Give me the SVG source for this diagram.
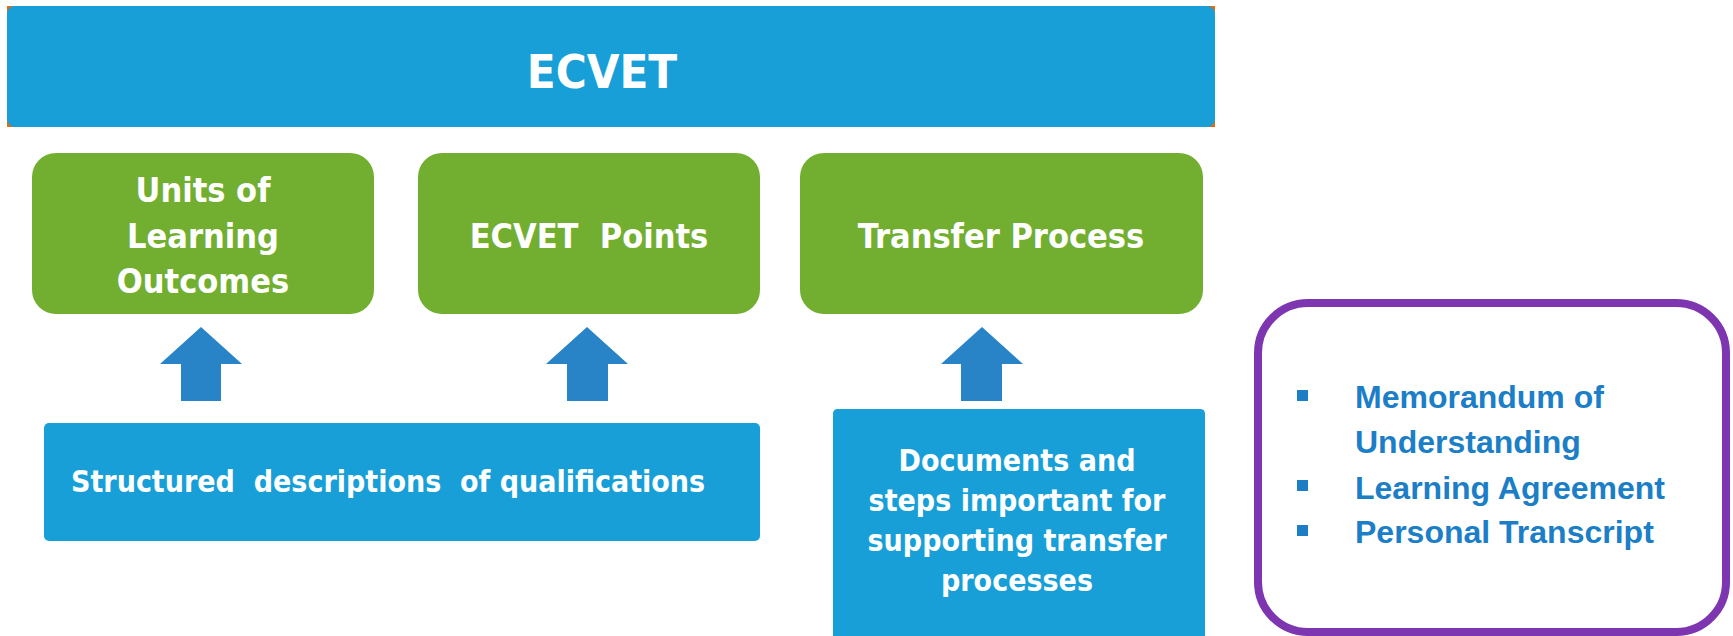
<svg xmlns="http://www.w3.org/2000/svg" width="1733" height="636" viewBox="0 0 1733 636">
<style>
.w{fill:#ffffff;font-family:'DejaVu Sans Condensed','DejaVu Sans',sans-serif;font-stretch:condensed;font-weight:bold;text-anchor:middle}
.blue{fill:#189FD8}
.green{fill:#72AF31}
.arrow{fill:#2984C7}
.li{fill:#1B7EC6;font-family:'Liberation Sans',Arial,sans-serif;font-weight:bold;font-size:32px}
.bul{fill:#1B7EC6}
</style>
<rect width="1733" height="636" fill="#ffffff"/>
<g id="ecvet">
<rect x="7" y="6" width="1208" height="121" fill="#E46C0A"/>
<rect class="blue" x="7" y="6" width="1208" height="121" rx="8" ry="8"/>
<text class="w" x="602" y="88" font-size="47">ECVET</text>
</g>
<g id="units">
<rect class="green" x="32" y="153" width="342" height="161" rx="24" ry="24"/>
<text class="w" font-size="34"><tspan x="203" y="202">Units of</tspan><tspan x="203" y="248">Learning</tspan><tspan x="203" y="293">Outcomes</tspan></text>
</g>
<g id="points">
<rect class="green" x="418" y="153" width="342" height="161" rx="24" ry="24"/>
<text class="w" font-size="34" x="589" y="248" xml:space="preserve">ECVET  Points</text>
</g>
<g id="transfer">
<rect class="green" x="800" y="153" width="403" height="161" rx="24" ry="24"/>
<text class="w" font-size="34" x="1001" y="248">Transfer Process</text>
</g>
<g id="structured">
<rect class="blue" x="44" y="423" width="716" height="118" rx="5" ry="5"/>
<text class="w" font-size="30" x="71" y="492" style="text-anchor:start" xml:space="preserve">Structured  descriptions  of qualifications</text>
</g>
<g id="documents">
<path class="blue" d="M838 409 H1200 Q1205 409 1205 414 V636 H833 V414 Q833 409 838 409 Z"/>
<text class="w" font-size="30"><tspan x="1017" y="471">Documents and</tspan><tspan x="1017" y="511">steps important for</tspan><tspan x="1017" y="551">supporting transfer</tspan><tspan x="1017" y="591">processes</tspan></text>
</g>
<g id="connectors">
<polygon class="arrow" points="201,327 242,364 221,364 221,401 181,401 181,364 160,364"/>
<polygon class="arrow" points="587,327 628,364 608,364 608,401 567,401 567,364 546,364"/>
<polygon class="arrow" points="982,327 1023,364 1002,364 1002,401 961,401 961,364 941,364"/>
</g>
<g id="documents-list">
<rect x="1258" y="303" width="468" height="329" rx="50" ry="50" fill="#ffffff" stroke="#7E36B0" stroke-width="8"/>
<rect class="bul" x="1297" y="390" width="11" height="11"/>
<rect class="bul" x="1297" y="480" width="11" height="11"/>
<rect class="bul" x="1297" y="525" width="11" height="11"/>
<text class="li"><tspan x="1355" y="408">Memorandum of</tspan><tspan x="1355" y="453">Understanding</tspan><tspan x="1355" y="499">Learning Agreement</tspan><tspan x="1355" y="543">Personal Transcript</tspan></text>
</g>
</svg>
